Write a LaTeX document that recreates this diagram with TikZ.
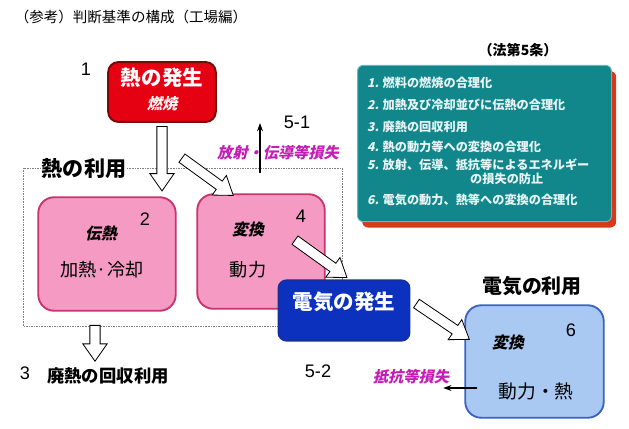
\documentclass[tikz,border=0pt]{standalone}
\usepackage{fontspec}
\setmainfont{Noto Sans CJK JP}
\newfontfamily\jpsl[FakeSlant=0.22]{Noto Sans CJK JP}
\newfontfamily\digits{Liberation Sans}
\usepackage{tikz}
\usetikzlibrary{shapes.arrows,shadows,calc,positioning,arrows.meta}
\definecolor{heatred}{HTML}{E50012}
\definecolor{heatrim}{HTML}{7A0A0A}
\definecolor{usepink}{HTML}{F59AC3}
\definecolor{userim}{HTML}{C8346C}
\definecolor{elecblue}{HTML}{0B31BE}
\definecolor{elecrim}{HTML}{1A2E96}
\definecolor{skyblue}{HTML}{A9C9F3}
\definecolor{skyrim}{HTML}{3C62C4}
\definecolor{lawteal}{HTML}{11878C}
\definecolor{lawrim}{HTML}{6CB8B8}
\definecolor{lawshadow}{HTML}{D9391B}
\definecolor{lawtext}{HTML}{E8F4F4}
\definecolor{lossmag}{HTML}{C41EB4}

\tikzset{
  blockarr/.style={single arrow, draw=black, fill=white, line width=0.7pt,
    inner sep=4pt, single arrow head extend=6pt, single arrow tip angle=70,
    single arrow head indent=0pt},
  thinarr/.style={-{Stealth[length=7pt,width=5pt]}, line width=0.9pt},
  numlabel/.style={font=\digits\fontsize{15.5}{17}\selectfont},
  losslabel/.style={text=lossmag, font=\jpsl\bfseries\fontsize{13}{15}\selectfont},
  lawline/.style={anchor=west, text=lawtext, inner sep=0pt,
    font=\bfseries\fontsize{10.4}{12}\selectfont},
}

\begin{document}
\begin{tikzpicture}[x=0.03cm,y=-0.03cm]
  \useasboundingbox (0,0) rectangle (629,429);
  % title
  \node (title) at (131,17) {\fontsize{12.4}{14}\selectfont （参考）判断基準の構成（工場編）};

  % heat use area
  \draw[densely dotted, draw=gray] (23,168) rectangle (342,326);
  \node[fill=white, inner sep=1pt, font=\bfseries\fontsize{18}{20}\selectfont] (usetitle) at (84,169) {熱の利用};

  % heat generation
  \node[draw=heatrim, fill=heatred, line width=1.7pt, rounded corners=8.5pt,
    minimum width=91.8pt, minimum height=51pt] (heat) at (162,92) {};
  \node[text=white, font=\bfseries\fontsize{17.5}{19}\selectfont] (heattext) at (162,78) {熱の発生};
  \node[text=white!85!pink, font=\jpsl\bfseries\fontsize{13}{15}\selectfont] (burn) at (162,104) {燃焼};
  \node[numlabel] (n1) at (86,69) {1};

  % box 2
  \node[draw=userim, fill=usepink, line width=1.6pt, rounded corners=13.6pt,
    minimum width=117.3pt, minimum height=96.9pt] (use2) at (107,254) {};
  \node[numlabel] (n2) at (145,219) {2};
  \node[font=\jpsl\bfseries\fontsize{13.5}{15}\selectfont] (transfer) at (101,234) {伝熱};
  \node[font=\fontsize{15.5}{17}\selectfont] (heatcool) at (102,270) {加熱·冷却};

  % box 4
  \node[draw=userim, fill=usepink, line width=1.6pt, rounded corners=13.6pt,
    minimum width=108.8pt, minimum height=97.75pt] (use4) at (261,251.5) {};
  \node[numlabel] (n4) at (301,216) {4};
  \node[font=\jpsl\bfseries\fontsize{13.5}{15}\selectfont] (conv4) at (248,229) {変換};
  \node[font=\fontsize{15.5}{17}\selectfont] (power4) at (248,270) {動力};

  % electricity generation
  \node[draw=elecrim, fill=elecblue, line width=1.2pt, rounded corners=7pt,
    minimum width=112.2pt, minimum height=51.9pt] (elec) at (344,310.5) {};
  \node[text=white, font=\bfseries\fontsize{17.5}{19}\selectfont] (electext) at (344,302) {電気の発生};

  % box 6
  \node[font=\bfseries\fontsize{17}{19}\selectfont] (elecuse) at (532,286) {電気の利用};
  \node[draw=skyrim, fill=skyblue, line width=1.6pt, rounded corners=13.6pt,
    minimum width=118.2pt, minimum height=96pt] (use6) at (534.5,361.5) {};
  \node[numlabel] (n6) at (571,330) {6};
  \node[font=\jpsl\bfseries\fontsize{13.5}{15}\selectfont] (conv6) at (508,342) {変換};
  \node[font=\fontsize{16}{18}\selectfont] (power6) at (536,391) {動力・熱};

  % losses and waste heat
  \node[numlabel] (n51) at (297,122) {5-1};
  \node[losslabel] (loss1) at (278,153) {放射・伝導等損失};
  \node[numlabel] (n52) at (318,371) {5-2};
  \node[losslabel] (loss2) at (411,377) {抵抗等損失};
  \node[numlabel] (n3) at (25,373) {3};
  \node[font=\bfseries\fontsize{14.8}{17}\selectfont] (waste) at (108,376) {廃熱の回収利用};

  % block arrows
  \coordinate (a1) at ($(heat.south |- use2.north)+(0,-9)$);
  \path let \p1=($(a1)-(heat.south)$), \n1={atan2(\y1,\x1)}, \n2={veclen(\x1,\y1)} in
    node[blockarr, rotate=\n1, minimum height=\n2] (arr1) at ($(heat.south)!0.5!(a1)$) {};
  \coordinate (b0) at (179,156);
  \coordinate (b1) at ($(use4.north west)+(34,0)$);
  \path let \p1=($(b1)-(b0)$), \n1={atan2(\y1,\x1)}, \n2={veclen(\x1,\y1)} in
    node[blockarr, rotate=\n1, minimum height=\n2] (arr2) at ($(b0)!0.5!(b1)$) {};
  \coordinate (c0) at (292,238);
  \coordinate (c1) at ($(elec.north)+(0,-4)$);
  \path let \p1=($(c1)-(c0)$), \n1={atan2(\y1,\x1)}, \n2={veclen(\x1,\y1)} in
    node[blockarr, rotate=\n1, minimum height=\n2] (arr3) at ($(c0)!0.5!(c1)$) {};
  \coordinate (d0) at ($(elec.east)+(3,-9)$);
  \coordinate (d1) at ($(use6.north west)+(2,33)$);
  \path let \p1=($(d1)-(d0)$), \n1={atan2(\y1,\x1)}, \n2={veclen(\x1,\y1)} in
    node[blockarr, rotate=\n1, minimum height=\n2] (arr4) at ($(d0)!0.5!(d1)$) {};
  \coordinate (e0) at ($(use2.south)+(-12,10)$);
  \coordinate (e1) at ($(waste.north)+(-13,-6)$);
  \path let \p1=($(e1)-(e0)$), \n1={atan2(\y1,\x1)}, \n2={veclen(\x1,\y1)} in
    node[blockarr, rotate=\n1, minimum height=\n2] (arr5) at ($(e0)!0.5!(e1)$) {};

  % thin arrows
  \coordinate (up0) at (260,173);
  \coordinate (up1) at (260,123);
  \draw[thinarr] (up0) -- (up1);
  \coordinate (lf0) at ($(use6.west |- power6)+(13,-3)$);
  \draw[thinarr] (lf0) -- ($(loss2.east)+(-10,11)$);

  % law box
  \node[font=\bfseries\fontsize{12}{14}\selectfont] (lawref) at (518,50) {（法第5条）};
  \node[draw=lawrim, fill=lawteal, line width=0.8pt, rounded corners=5pt,
    minimum width=216.75pt, minimum height=133.5pt,
    drop shadow={shadow xshift=4pt, shadow yshift=-5pt, fill=lawshadow, opacity=1}] (law) at (484.5,143.5) {};
  \node[lawline] (l1) at (367,83) {{\jpsl 1.} 燃料の燃焼の合理化};
  \node[lawline] (l2) at (367,105) {{\jpsl 2.} 加熱及び冷却並びに伝熱の合理化};
  \node[lawline] (l3) at (367,127) {{\jpsl 3.} 廃熱の回収利用};
  \node[lawline] (l4) at (367,147) {{\jpsl 4.} 熱の動力等への変換の合理化};
  \node[lawline] (l5) at (367,165) {{\jpsl 5.} 放射、伝導、抵抗等によるエネルギー};
  \node[lawline] (l5b) at (470,179) {の損失の防止};
  \node[lawline] (l6) at (367,200) {{\jpsl 6.} 電気の動力、熱等への変換の合理化};
\end{tikzpicture}
\end{document}
